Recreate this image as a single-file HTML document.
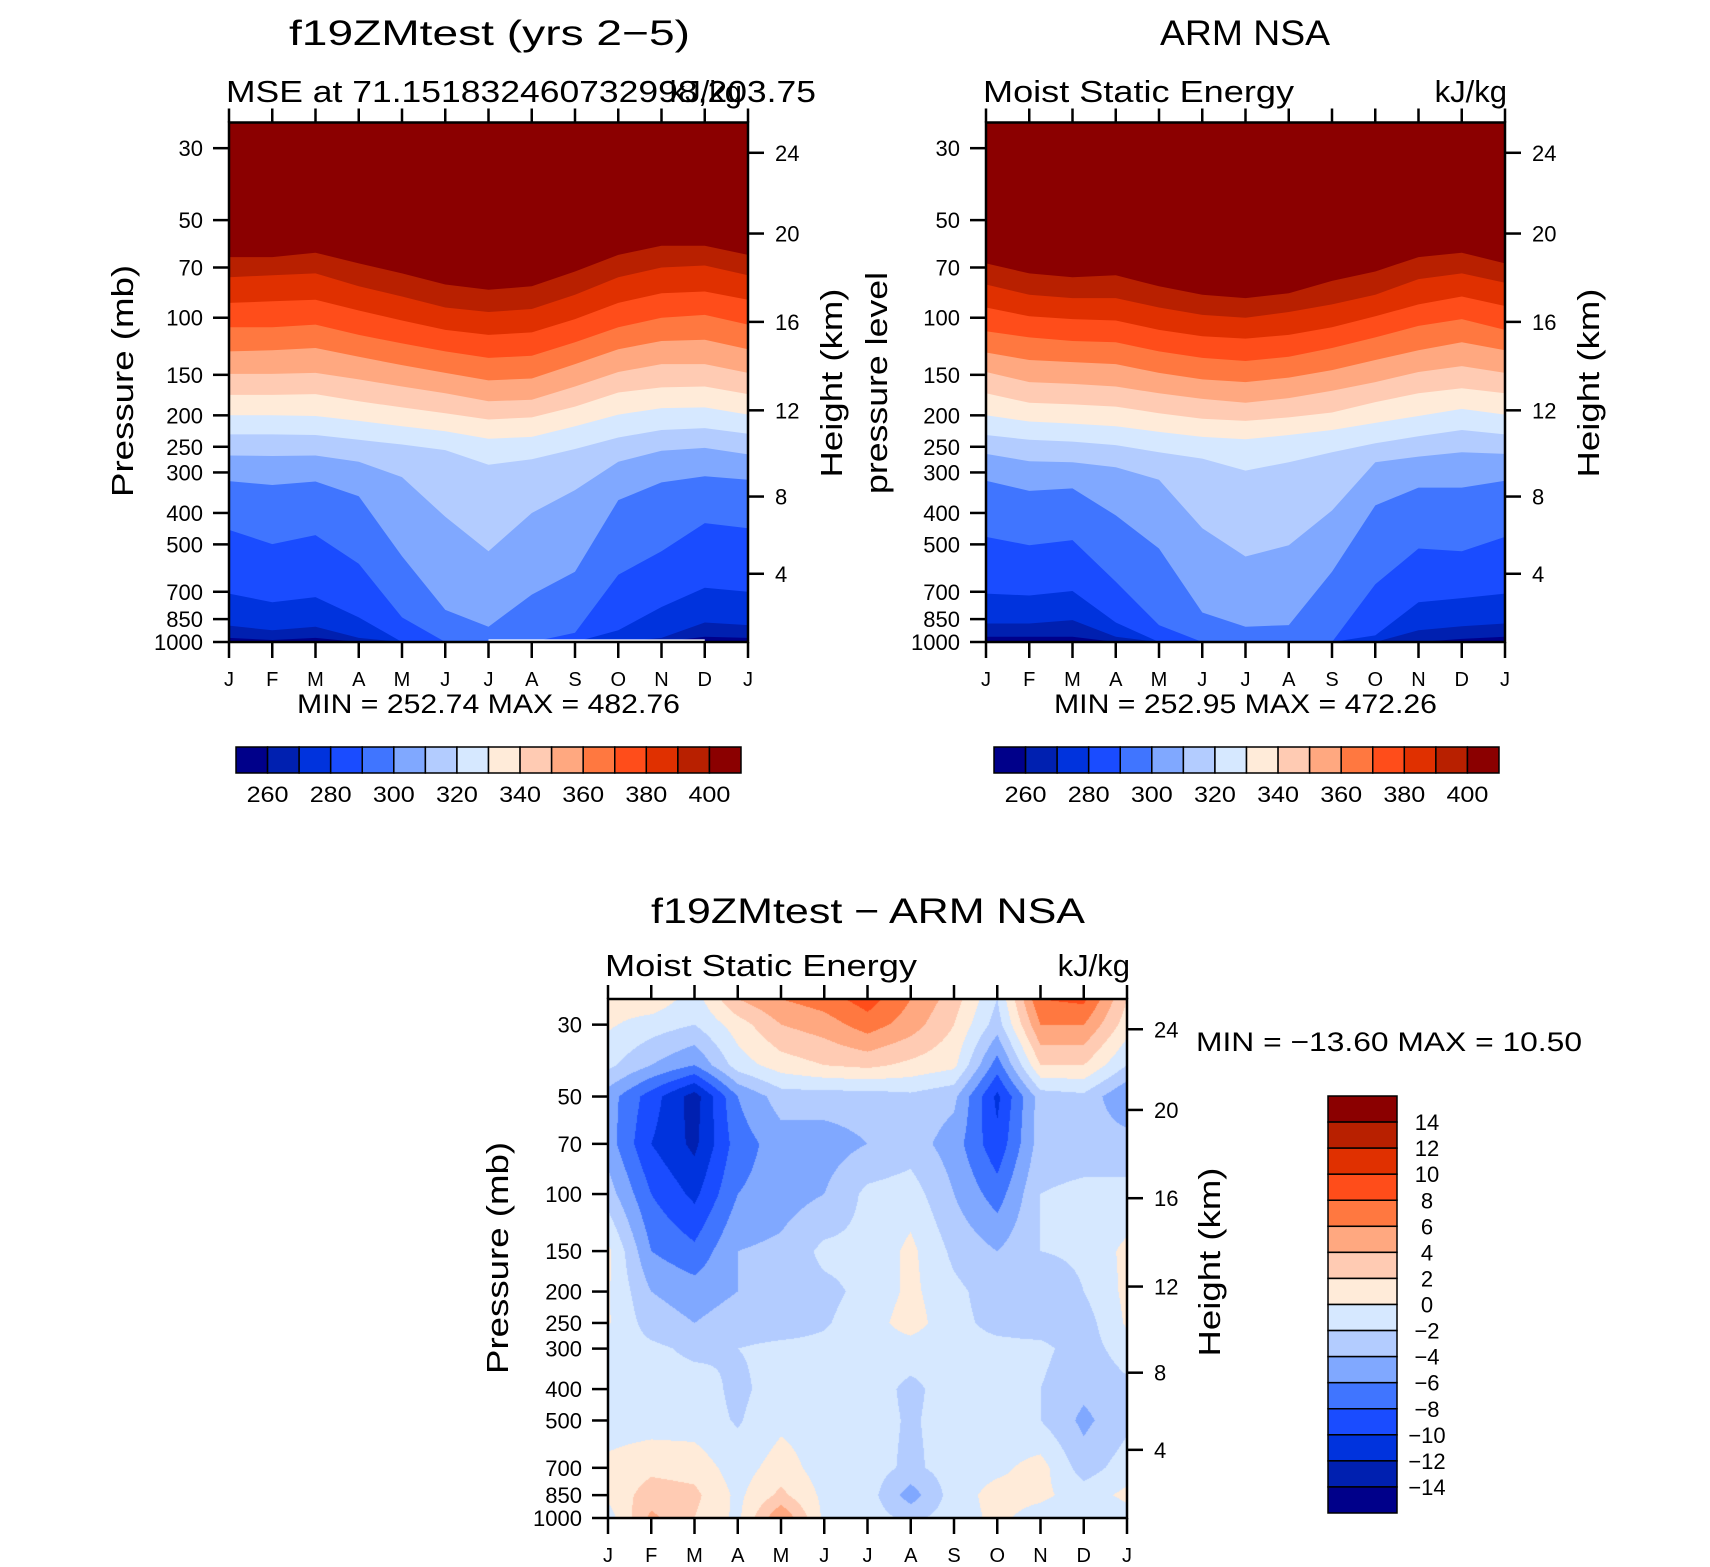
<!DOCTYPE html>
<html><head><meta charset="utf-8"><title>MSE ARM NSA</title>
<style>
html,body{margin:0;padding:0;background:#fff;}
#wrap{position:relative;width:1710px;height:1567px;overflow:hidden;}
#diffCanvas{position:absolute;left:608px;top:999px;}
#svg{position:absolute;left:0;top:0;}
text{font-family:"Liberation Sans",sans-serif;fill:#000;}
</style></head><body>
<div id="wrap">
<canvas id="diffCanvas" width="519" height="519"></canvas>
<svg id="svg" width="1710" height="1567" xmlns="http://www.w3.org/2000/svg">
  <g id="gModel"></g>
  <g id="gObs"></g>
  <g id="gDiff"></g>
  <g id="gText">
    <text x="289" y="45" font-size="35" textLength="401" lengthAdjust="spacingAndGlyphs">f19ZMtest (yrs 2−5)</text>
    <text x="226" y="102" font-size="31" textLength="590" lengthAdjust="spacingAndGlyphs">MSE at 71.151832460732998,203.75</text>
    <text x="742" y="102" font-size="31" text-anchor="end">kJ/kg</text>
    <text x="297" y="713" font-size="27" textLength="383" lengthAdjust="spacingAndGlyphs">MIN = 252.74 MAX = 482.76</text>
    <text transform="translate(133,381) rotate(-90)" font-size="31" text-anchor="middle" textLength="232" lengthAdjust="spacingAndGlyphs">Pressure (mb)</text>
    <text transform="translate(842,383) rotate(-90)" font-size="31" text-anchor="middle" textLength="189" lengthAdjust="spacingAndGlyphs">Height (km)</text>

    <text x="1160" y="45" font-size="35" textLength="170" lengthAdjust="spacingAndGlyphs">ARM NSA</text>
    <text x="983" y="102" font-size="31" textLength="311" lengthAdjust="spacingAndGlyphs">Moist Static Energy</text>
    <text x="1507" y="102" font-size="31" text-anchor="end">kJ/kg</text>
    <text x="1054" y="713" font-size="27" textLength="383" lengthAdjust="spacingAndGlyphs">MIN = 252.95 MAX = 472.26</text>
    <text transform="translate(887,383) rotate(-90)" font-size="31" text-anchor="middle" textLength="222" lengthAdjust="spacingAndGlyphs">pressure level</text>
    <text transform="translate(1599,383) rotate(-90)" font-size="31" text-anchor="middle" textLength="189" lengthAdjust="spacingAndGlyphs">Height (km)</text>

    <text x="651" y="923" font-size="35" textLength="434" lengthAdjust="spacingAndGlyphs">f19ZMtest − ARM NSA</text>
    <text x="605" y="976" font-size="31" textLength="312" lengthAdjust="spacingAndGlyphs">Moist Static Energy</text>
    <text x="1130" y="976" font-size="31" text-anchor="end">kJ/kg</text>
    <text x="1196" y="1051" font-size="27" textLength="386" lengthAdjust="spacingAndGlyphs">MIN = −13.60 MAX =   10.50</text>
    <text transform="translate(508,1258) rotate(-90)" font-size="31" text-anchor="middle" textLength="232" lengthAdjust="spacingAndGlyphs">Pressure (mb)</text>
    <text transform="translate(1220,1262) rotate(-90)" font-size="31" text-anchor="middle" textLength="189" lengthAdjust="spacingAndGlyphs">Height (km)</text>
  </g>
</svg>
</div>
<script>
// ---------- data ----------
const monthLabels = ["J","F","M","A","M","J","J","A","S","O","N","D","J"];
const pressureTicks = [30,50,70,100,150,200,250,300,400,500,700,850,1000];
const heightTickLabels = [4,8,12,16,20,24];
const heightTickPressure = [616,356,193,103,55,31];
const mseLevels = [260,270,280,290,300,310,320,330,340,350,360,370,380,390,400];
const mseColorbarLabels = [260,280,300,320,340,360,380,400];
const diffLevels = [-14,-12,-10,-8,-6,-4,-2,0,2,4,6,8,10,12,14];
const diffColorbarLabels = [14,12,10,8,6,4,2,0,-2,-4,-6,-8,-10,-12,-14];
const palette = ["#00008a","#0020b0","#0033dd","#1a4cff","#4075ff","#80a8ff","#b3ccff","#d6e8ff",
                 "#ffebd9","#ffcbb3","#ffa880","#ff7840","#ff4d1a","#e03000","#b82000","#8b0000"];

// pressure (mb) where each MSE contour level (260..400) is crossed, per month (J..J)
const modelContourP = [
 [971,986,971,1000,1000,1000,1000,1000,1000,1000,1000,964,971],
 [890,920,897,971,1000,1000,1000,1000,1000,1000,971,871,887],
 [709,754,727,840,1000,1000,1000,1000,1000,920,780,680,700],
 [451,499,468,574,840,1000,1000,1000,937,620,525,430,446],
 [319,328,320,355,544,796,897,714,607,365,322,308,316],
 [266,267,266,278,310,411,525,400,340,278,257,252,264],
 [229,229,230,238,246,256,284,273,254,234,222,219,228],
 [200,200,201,208,216,224,236,233,216,199,190,189,199],
 [173,173,172,181,189,197,206,203,188,170,164,163,172],
 [149,149,148,155,163,171,181,179,163,147,139,139,148],
 [127,126,124,132,140,148,156,154,139,125,118,117,125],
 [107,107,105,113,120,127,133,131,119,107,100,98,105],
 [90,89,88,95,102,109,113,111,101,90,84,83,88],
 [75,74,73,80,86,93,96,94,85,75,70,69,74],
 [65,65,63,68,73,79,82,80,72,64,60,60,64]
];
const obsContourP = [
 [964,964,964,1000,1000,1000,1000,1000,1000,1000,1000,978,964],
 [877,877,856,964,1000,1000,1000,1000,1000,1000,920,894,877],
 [709,719,696,871,1000,1000,1000,1000,1000,954,754,732,709],
 [474,503,485,652,887,1000,1000,1000,1000,664,515,525,474],
 [318,342,336,407,515,811,897,887,607,379,334,334,318],
 [263,277,279,289,316,446,545,503,393,279,268,260,263],
 [230,238,241,247,260,272,296,279,260,244,232,222,229],
 [200,209,212,216,225,233,237,230,222,211,201,191,199],
 [171,183,185,188,197,205,208,203,196,182,171,165,171],
 [147,158,160,163,171,178,183,177,168,158,147,141,148],
 [128,135,137,139,148,155,158,153,145,135,126,119,126],
 [110,115,118,119,127,133,136,132,124,115,106,101,109],
 [93,99,101,102,109,114,116,113,107,99,91,86,92],
 [79,85,87,87,93,98,100,96,91,85,76,73,78],
 [68,73,75,74,80,85,87,84,77,72,65,63,68]
];
// difference (kJ/kg) on pressure levels x months
const diffPressure = [25,30,40,50,70,100,150,200,250,300,400,500,700,850,1000];
const diff25  = [1,1.5,-1,4,6,7,9,6,3,-2,8,8.5,2];
const diff30  = [0.3,-1,-2,1,4,5,7,5,2,-3,6,6,1];
const diff40  = [-1.5,-4,-6,-1,1,2,2.5,1.5,0.5,-7,2,2,-2];
const diff50  = [-5,-9,-13,-6,-3,-3,-3,-2.5,-3.5,-10.5,-3,-2.5,-6];
const diff70  = [-5,-10,-12.5,-7,-5,-5,-4,-3,-5,-9.5,-3,-3,-3];
const diff100 = [-3,-8,-10.5,-6,-5,-4,-1.5,-1,-4,-7,-2,-1.5,-1.5];
const diff150 = [0.5,-6,-7.5,-4,-3.5,-1.5,-1.5,0.5,-2.5,-4,-2,-1.5,0.5];
const diff200 = [0.2,-4,-5,-4,-3,-2.5,-1.5,0.5,-1.5,-3,-4,-2,0.5];
const diff250 = [0.2,-3,-4,-3,-3,-2.2,-1,1,-1.5,-2.5,-3,-3,0.3];
const diff300 = [-1,-1.5,-2.5,-2,-1.5,-1.5,-1,-1,-1.5,-1.5,-1.5,-3,-1];
const diff400 = [-1,-1,-1,-2.5,-1,-1,-1,-2.5,-1,-1,-2,-3.5,-2.5];
const diff500 = [-1,-1,-1,-2.2,-0.5,-1,-1,-2.3,-1,-1,-2,-4.5,-2.5];
const diff700 = [0.5,1.5,1.2,-1,1,-1,-1,-2.5,-1,-0.5,0.8,-3,-1];
const diff850 = [0.5,3,2.5,-0.5,2.5,-0.5,-1,-5,-1,0.8,0.5,-1,0.5];
const diff1000= [-1,4.5,2,-0.5,6,-0.5,-1,-2.5,-1,0.5,-1,-2,-1];
const diffGrid = [diff25,diff30,diff40,diff50,diff70,diff100,diff150,diff200,diff250,diff300,diff400,diff500,diff700,diff850,diff1000];

// ---------- helpers ----------
const NS = "http://www.w3.org/2000/svg";
const PTOP = 25, PBOT = 1000;
function mk(tag, attrs, parent){
  const e = document.createElementNS(NS, tag);
  for (const k in attrs) e.setAttribute(k, attrs[k]);
  parent.appendChild(e);
  return e;
}
function panel(L, T, W, H){
  return {
    L:L, T:T, W:W, H:H,
    x: m => L + m / 12 * W,
    y: p => T + H - H * Math.log(PBOT / p) / Math.log(PBOT / PTOP)
  };
}
function drawAxes(g, P, name){
  const fr = mk("rect", {x:P.L, y:P.T, width:P.W, height:P.H, fill:"none", stroke:"#000", "stroke-width":2.5}, g);
  
  
  monthLabels.forEach((lab, i) => {
    const x = P.x(i);
    const t1 = mk("line", {x1:x, x2:x, y1:P.T, y2:P.T - 14, stroke:"#000", "stroke-width":2.5}, g);
    
    
    const t2 = mk("line", {x1:x, x2:x, y1:P.T + P.H, y2:P.T + P.H + 16, stroke:"#000", "stroke-width":2.5}, g);
    
    
    const tx = mk("text", {x:x, y:P.T + P.H + 44, "font-size":20, "text-anchor":"middle"}, g);
    tx.textContent = lab;
    
    
  });
  pressureTicks.forEach(p => {
    const y = P.y(p);
    const tk = mk("line", {x1:P.L, x2:P.L - 16, y1:y, y2:y, stroke:"#000", "stroke-width":2.5}, g);
    
    
    const tx = mk("text", {x:P.L - 26, y:y + 8, "font-size":22, "text-anchor":"end"}, g);
    tx.textContent = p;
    
    
  });
  heightTickLabels.forEach((h, i) => {
    const y = P.y(heightTickPressure[i]);
    const tk = mk("line", {x1:P.L + P.W, x2:P.L + P.W + 16, y1:y, y2:y, stroke:"#000", "stroke-width":2.5}, g);
    
    
    const tx = mk("text", {x:P.L + P.W + 27, y:y + 8, "font-size":22}, g);
    tx.textContent = h;
    
    
  });
}
function drawContours(g, P, contours, name){
  const bg = mk("rect", {x:P.L, y:P.T, width:P.W, height:P.H, fill:palette[15]}, g);
  
  
  for (let k = contours.length - 1; k >= 0; k--) {
    const pts = contours[k].map((p, i) => P.x(i).toFixed(1) + "," + P.y(Math.min(p, PBOT)).toFixed(1));
    pts.push(P.x(12) + "," + P.y(PBOT), P.x(0) + "," + P.y(PBOT));
    const poly = mk("polygon", {points:pts.join(" "), fill:palette[k]}, g);
    
    
  }
}
function drawHBar(g, L, T, W, H, name){
  const n = palette.length, bw = W / n;
  palette.forEach((c, i) => {
    const r = mk("rect", {x:L + i * bw, y:T, width:bw, height:H, fill:c, stroke:"#000", "stroke-width":1.5}, g);
    
    
  });
  mseColorbarLabels.forEach(v => {
    const k = mseLevels.indexOf(v) + 1;
    const tx = mk("text", {x:L + k * bw - 21, y:T + H + 29, "font-size":22, textLength:42, lengthAdjust:"spacingAndGlyphs"}, g);
    tx.textContent = v;
    
    
  });
}

// ---------- top panels ----------
const gM = document.getElementById("gModel");
const PM = panel(229, 122.5, 519, 519.5);
drawContours(gM, PM, modelContourP, "model");
const miss = mk("line", {x1:PM.x(6), x2:PM.x(11), y1:PM.y(990), y2:PM.y(990), stroke:"#fff", "stroke-width":2.5}, gM);


drawAxes(gM, PM, "model");
drawHBar(gM, 236, 747, 505, 26, "model");

const gO = document.getElementById("gObs");
const PO = panel(986, 122.5, 519, 519.5);
drawContours(gO, PO, obsContourP, "obs");
drawAxes(gO, PO, "obs");
drawHBar(gO, 994, 747, 505, 26, "obs");

// ---------- difference panel ----------
const PD = panel(608, 999, 519, 519);
(function(){
  const cv = document.getElementById("diffCanvas");
  const ctx = cv.getContext("2d");
  const W = cv.width, H = cv.height;
  const img = ctx.createImageData(W, H);
  const rgb = palette.map(c => [parseInt(c.substr(1,2),16), parseInt(c.substr(3,2),16), parseInt(c.substr(5,2),16)]);
  const lnl = diffPressure.map(p => Math.log(p));
  const lnTop = Math.log(PTOP), lnBot = Math.log(PBOT);
  for (let py = 0; py < H; py++) {
    const lp = lnTop + (py + 0.5) / H * (lnBot - lnTop);
    let j = 0;
    while (j < lnl.length - 2 && lp > lnl[j + 1]) j++;
    let ty = (lp - lnl[j]) / (lnl[j + 1] - lnl[j]);
    ty = Math.max(0, Math.min(1, ty));
    for (let px = 0; px < W; px++) {
      const fm = (px + 0.5) / W * 12;
      let i = Math.min(11, Math.floor(fm));
      const tx = fm - i;
      const a = diffGrid[j][i] * (1 - tx) + diffGrid[j][i + 1] * tx;
      const b = diffGrid[j + 1][i] * (1 - tx) + diffGrid[j + 1][i + 1] * tx;
      const v = a * (1 - ty) + b * ty;
      let idx = 0;
      while (idx < diffLevels.length && v >= diffLevels[idx]) idx++;
      const c = rgb[idx];
      const o = (py * W + px) * 4;
      img.data[o] = c[0]; img.data[o + 1] = c[1]; img.data[o + 2] = c[2]; img.data[o + 3] = 255;
    }
  }
  ctx.putImageData(img, 0, 0);
})();
const gD = document.getElementById("gDiff");
drawAxes(gD, PD, "diff");
(function(){
  const L = 1328, T = 1096, W = 69, H = 417, n = palette.length, bh = H / n;
  for (let i = 0; i < n; i++) {
    const r = mk("rect", {x:L, y:T + i * bh, width:W, height:bh, fill:palette[n - 1 - i], stroke:"#000", "stroke-width":1.5}, gD);
    
    
  }
  diffColorbarLabels.forEach((v, k) => {
    const tx = mk("text", {x:1427, y:T + (k + 1) * bh + 8, "font-size":22, "text-anchor":"middle"}, gD);
    tx.textContent = v < 0 ? "−" + Math.abs(v) : String(v);
    
    
  });
})();
</script>
</body></html>
